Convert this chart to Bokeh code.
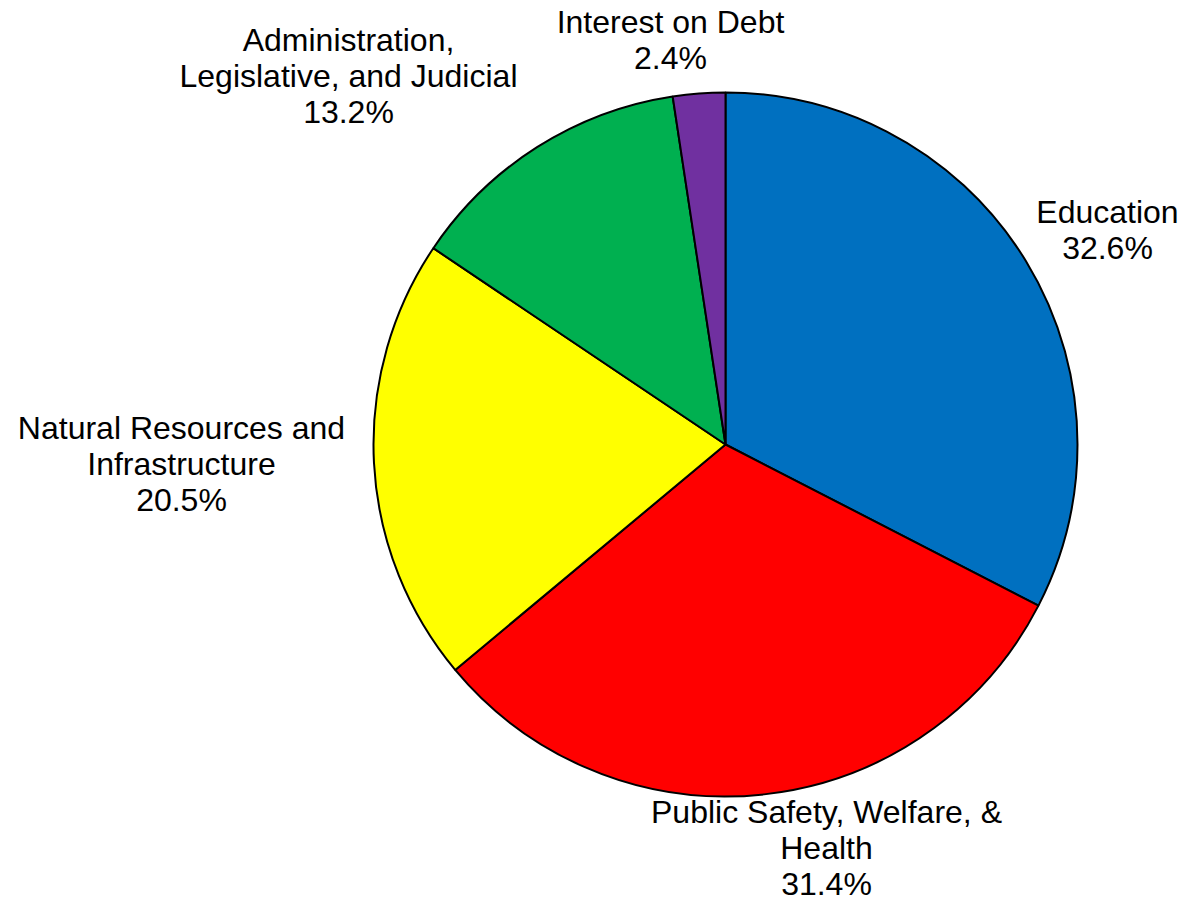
import math
from bokeh.plotting import figure
from bokeh.models import ColumnDataSource, Range1d
from bokeh.core.properties import value
from bokeh.embed import file_html
from bokeh.resources import INLINE

# ---- data ----
categories = ["Education", "Public Safety, Welfare, &\nHealth", "Natural Resources and\nInfrastructure",
              "Administration,\nLegislative, and Judicial", "Interest on Debt"]
percents = [32.6, 31.4, 20.5, 13.2, 2.4]
colors = ["#0070C0", "#FF0000", "#FFFF00", "#00B050", "#7030A0"]

# ---- layout (pixel coords from top-left of the figure) ----
W, H = 1181, 901
CX, CY, R = 725, 444, 352
label_center_x = [1107, 826, 181, 348, 670]
label_first_baseline = [222, 822, 438, 50, 32]
LINE_STEP = 36
BASELINE_FIX = -11
FONT = "Liberation Sans"


def px(x):
    return x


def py(y):
    return H - y


total = sum(percents)
starts, ends = [], []
acc = 0.0
for v in percents:
    s = math.pi / 2 - 2 * math.pi * acc / total
    e = s - 2 * math.pi * v / total
    starts.append(s)
    ends.append(e)
    acc += v

src = ColumnDataSource(dict(start=starts, end=ends, color=colors))

p = figure(width=W, height=H, output_backend="svg", toolbar_location=None,
           x_range=Range1d(0, W), y_range=Range1d(0, H), min_border=0)
p.axis.visible = False
p.grid.visible = False
p.outline_line_color = None
p.background_fill_color = "white"
p.border_fill_color = "white"

p.wedge(x=px(CX), y=py(CY), radius=R, start_angle="start", end_angle="end",
        direction="clock", fill_color="color", line_color="black", line_width=2, source=src)

tx, ty, tt = [], [], []
for cat, v, lx, lb in zip(categories, percents, label_center_x, label_first_baseline):
    lines = cat.split("\n") + [f"{v:.1f}%"]
    for i, ln in enumerate(lines):
        tx.append(px(lx))
        ty.append(py(lb + i * LINE_STEP + BASELINE_FIX))
        tt.append(ln)

p.text(x=tx, y=ty, text=tt, text_align="center", text_baseline="alphabetic",
       text_font=value(FONT), text_font_size="32px", text_color="black")

open("out.html", "w").write(file_html(p, INLINE))
